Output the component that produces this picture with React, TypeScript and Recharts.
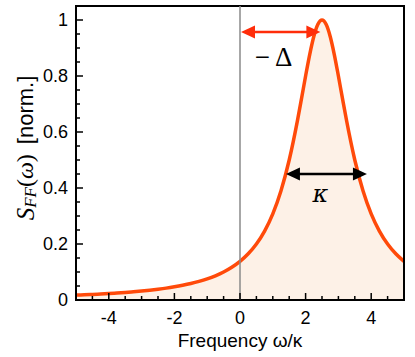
import React from 'react'
import {
  ComposedChart,
  Area,
  XAxis,
  YAxis,
  ReferenceLine,
  ReferenceArea,
} from 'recharts'

// frequency samples (omega / kappa) and normalised spectrum
const freq = [
  -5, -4.75, -4.5, -4.25, -4, -3.75, -3.5, -3.25, -3, -2.75, -2.5, -2.25, -2, -1.75, -1.5, -1.25,
  -1, -0.75, -0.5, -0.25, 0, 0.25, 0.5, 0.75, 1, 1.25, 1.5, 1.75, 1.875, 2, 2.125, 2.25, 2.375,
  2.5, 2.625, 2.75, 2.875, 3, 3.125, 3.25, 3.5, 3.75, 4, 4.25, 4.5, 4.75, 5,
]
const spectrum = [
  0.0175, 0.0187, 0.02, 0.0215, 0.0231, 0.025, 0.027, 0.0294, 0.032, 0.035, 0.0385, 0.0424,
  0.0471, 0.0525, 0.0588, 0.0664, 0.0755, 0.0865, 0.1, 0.1168, 0.1379, 0.165, 0.2, 0.2462,
  0.3077, 0.3902, 0.5, 0.64, 0.719, 0.8, 0.8767, 0.9412, 0.9846, 1, 0.9846, 0.9412, 0.8767,
  0.8, 0.719, 0.64, 0.5, 0.3902, 0.3077, 0.2462, 0.2, 0.165, 0.1379,
]

const xTicks = [-5, -4.5, -4, -3.5, -3, -2.5, -2, -1.5, -1, -0.5, 0, 0.5, 1, 1.5, 2, 2.5, 3, 3.5, 4, 4.5, 5]
const xMajor = [-4, -2, 0, 2, 4]
const yTicks = [0, 0.05, 0.1, 0.15, 0.2, 0.25, 0.3, 0.35, 0.4, 0.45, 0.5, 0.55, 0.6, 0.65, 0.7, 0.75, 0.8, 0.85, 0.9, 0.95, 1]
const yMajor = [0, 0.2, 0.4, 0.6, 0.8, 1]

// annotation arrows: detuning (-Delta) and linewidth (kappa)
const deltaArrow = { from: 0.03, to: 2.45, y: 0.957 }
const kappaArrow = { from: 1.4, to: 3.87, y: 0.45 }

const data = freq.map((x, i) => ({ x, s: spectrum[i] }))

const sans = '"Liberation Sans", Arial, sans-serif'
const serif = '"Liberation Serif", "DejaVu Serif", serif'
const mathItalic = '"DejaVu Serif", serif'

const isIn = (arr: number[], v: number) => arr.some((a) => Math.abs(a - v) < 1e-6)

const XTick = (props: any) => {
  const { x, y, payload } = props
  const major = isIn(xMajor, payload.value)
  return (
    <g>
      <line x1={x} y1={y} x2={x} y2={y - (major ? 7 : 4)} stroke="#000" strokeWidth={1.5} />
      {major && (
        <text x={x} y={y + 24} textAnchor="middle" fontFamily={sans} fontSize={18} fill="#000">
          {payload.value}
        </text>
      )}
    </g>
  )
}

const YTick = (props: any) => {
  const { x, y, payload } = props
  const major = isIn(yMajor, payload.value)
  return (
    <g>
      <line x1={x} y1={y} x2={x + (major ? 7 : 4)} y2={y} stroke="#000" strokeWidth={1.5} />
      {major && (
        <text x={x - 8} y={y + 6} textAnchor="end" fontFamily={sans} fontSize={18} fill="#000">
          {payload.value}
        </text>
      )}
    </g>
  )
}

const arrowShape = (color: string, label: React.ReactNode, dx: number, dy: number) => (props: any) => {
  const { x1, y1, x2, y2 } = props
  const hl = 14
  const hw = 6.5
  return (
    <g>
      <line x1={x1 + hl - 2} y1={y1} x2={x2 - hl + 2} y2={y2} stroke={color} strokeWidth={2.5} />
      <polygon points={`${x1},${y1} ${x1 + hl},${y1 - hw} ${x1 + hl},${y1 + hw}`} fill={color} />
      <polygon points={`${x2},${y2} ${x2 - hl},${y2 - hw} ${x2 - hl},${y2 + hw}`} fill={color} />
      <text x={(x1 + x2) / 2 + dx} y={y1 + dy} textAnchor="middle" fill="#000">
        {label}
      </text>
    </g>
  )
}

const YLabel = () => (
  <text
    x={25}
    y={148}
    transform="rotate(-90, 25, 148)"
    textAnchor="middle"
    dominantBaseline="central"
    fill="#000"
    fontSize={22}
  >
    <tspan fontFamily={serif} fontStyle="italic" fontSize={25}>S</tspan>
    <tspan fontFamily={serif} fontStyle="italic" fontSize={17} dy={5}>FF</tspan>
    <tspan fontFamily={serif} fontSize={24} dy={-5}>(</tspan>
    <tspan fontFamily={serif} fontStyle="italic" fontSize={24}>ω</tspan>
    <tspan fontFamily={serif} fontSize={24}>)</tspan>
    <tspan fontFamily={sans} dx={10}>[norm.]</tspan>
  </text>
)

const XLabel = () => (
  <text x={240} y={347} textAnchor="middle" fontFamily={sans} fontSize={19} fill="#000">
    Frequency ω/κ
  </text>
)

export default function App() {
  return (
    <div style={{ position: 'fixed', top: 0, left: 0, width: 415, height: 357, background: '#fff' }}>
      <ComposedChart width={415} height={357} data={data} margin={{ top: 6, right: 11, bottom: 0, left: 0 }}>
        <XAxis
          dataKey="x"
          type="number"
          domain={[-5, 5]}
          ticks={xTicks}
          interval={0}
          tickSize={0}
          tickMargin={0}
          tickLine={false}
          axisLine={false}
          height={57}
          tick={<XTick />}
          allowDataOverflow
        />
        <YAxis
          type="number"
          domain={[0, 1.05]}
          ticks={yTicks}
          interval={0}
          tickSize={0}
          tickMargin={0}
          tickLine={false}
          axisLine={false}
          width={76}
          tick={<YTick />}
          allowDataOverflow
        />
        <Area
          dataKey="s"
          type="monotone"
          stroke="#ff4a0a"
          strokeWidth={3.5}
          fill="#fdf1e7"
          fillOpacity={1}
          isAnimationActive={false}
          dot={false}
          activeDot={false}
        />
        <ReferenceLine x={0} stroke="#8a8a8a" strokeWidth={1.5} />
        <ReferenceLine
          segment={[{ x: deltaArrow.from, y: deltaArrow.y }, { x: deltaArrow.to, y: deltaArrow.y }]}
          shape={arrowShape(
            '#ff2d0a',
            <tspan fontFamily={serif} fontSize={27}>
              <tspan>−</tspan>
              <tspan dx={5}>Δ</tspan>
            </tspan>,
            -7,
            34
          )}
        />
        <ReferenceLine
          segment={[{ x: kappaArrow.from, y: kappaArrow.y }, { x: kappaArrow.to, y: kappaArrow.y }]}
          shape={arrowShape(
            '#000',
            <tspan fontFamily={mathItalic} fontStyle="italic" fontSize={24}>κ</tspan>,
            -6,
            28
          )}
        />
        <ReferenceArea x1={-5} x2={5} y1={0} y2={1.05} stroke="#000" strokeWidth={2} fill="none" fillOpacity={0} />
        <YLabel />
        <XLabel />
      </ComposedChart>
    </div>
  )
}
